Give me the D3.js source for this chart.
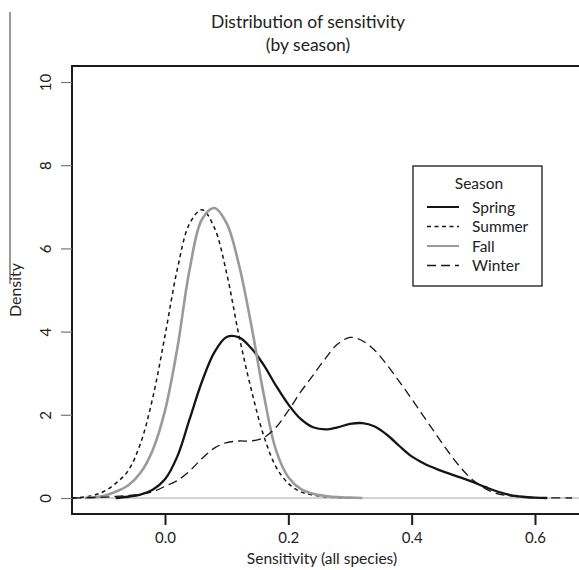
<!DOCTYPE html>
<html>
<head>
<meta charset="utf-8">
<script src="https://cdn.jsdelivr.net/npm/d3@7"></script>
<style>
  body { margin: 0; background: #fff; }
  svg { display: block; }
  text { font-family: Lato, "Noto Sans", sans-serif; fill: #222; }
</style>
</head>
<body>
<svg id="chart" width="579" height="570"></svg>
<script>
// density estimates
const spring_x = [-0.08,-0.06,-0.04,-0.02,0.00,0.02,0.04,0.06,0.08,0.10,0.12,0.14,0.16,0.18,0.20,0.22,0.24,0.26,0.28,0.30,0.32,0.34,0.36,0.38,0.40,0.42,0.44,0.46,0.48,0.50,0.52,0.54,0.56,0.58,0.60,0.62];
const spring_y = [0.0,0.03,0.08,0.2,0.45,1.0,1.9,2.8,3.5,3.87,3.86,3.6,3.2,2.7,2.25,1.9,1.7,1.65,1.7,1.78,1.8,1.72,1.52,1.25,1.0,0.83,0.7,0.59,0.49,0.38,0.26,0.15,0.07,0.03,0.01,0.0];

const summer_x = [-0.15,-0.12,-0.10,-0.08,-0.06,-0.04,-0.02,0.00,0.02,0.04,0.06,0.08,0.10,0.12,0.14,0.16,0.18,0.20,0.22,0.24,0.26,0.28,0.30];
const summer_y = [0.0,0.05,0.15,0.35,0.65,1.3,2.4,3.9,5.5,6.6,6.93,6.5,5.4,3.9,2.6,1.5,0.75,0.35,0.15,0.07,0.03,0.01,0.0];

const fall_x = [-0.13,-0.10,-0.08,-0.06,-0.04,-0.02,0.00,0.02,0.04,0.06,0.08,0.10,0.12,0.14,0.16,0.18,0.20,0.22,0.24,0.26,0.28,0.30,0.32];
const fall_y = [0.0,0.05,0.15,0.3,0.6,1.15,2.1,3.6,5.5,6.7,6.97,6.6,5.6,4.15,2.5,1.15,0.5,0.22,0.1,0.05,0.02,0.01,0.0];

const winter_x = [-0.15,-0.12,-0.10,-0.08,-0.06,-0.04,-0.02,0.00,0.02,0.04,0.06,0.08,0.10,0.12,0.14,0.16,0.18,0.20,0.22,0.24,0.26,0.28,0.30,0.32,0.34,0.36,0.38,0.40,0.42,0.44,0.46,0.48,0.50,0.52,0.54,0.56,0.58,0.60,0.62,0.66];
const winter_y = [0.0,0.01,0.02,0.04,0.06,0.09,0.15,0.28,0.42,0.65,0.95,1.2,1.33,1.37,1.37,1.45,1.7,2.1,2.55,2.95,3.35,3.7,3.86,3.78,3.55,3.2,2.8,2.38,1.95,1.52,1.1,0.72,0.42,0.22,0.1,0.05,0.02,0.01,0.005,0.0];

const seasons = ["Spring", "Summer", "Fall", "Winter"];
const x_ticks = [0.0, 0.2, 0.4, 0.6];
const y_ticks = [0, 2, 4, 6, 8, 10];

const series = [
    {name: "Spring", xs: spring_x, ys: spring_y, color: "#151515", width: 2.3, dash: null},
    {name: "Summer", xs: summer_x, ys: summer_y, color: "#151515", width: 1.5, dash: "4,3.5"},
    {name: "Fall",   xs: fall_x,   ys: fall_y,   color: "#9a9a9a", width: 2.6, dash: null},
    {name: "Winter", xs: winter_x, ys: winter_y, color: "#151515", width: 1.3, dash: "9,5"}
];

const svg = d3.select("#chart");

// plot box
const box = {left: 72, top: 66, right: 582, bottom: 514};

const x = d3.scaleLinear().domain([0, 0.6]).range([165, 535]);
const y = d3.scaleLinear().domain([0, 10]).range([498, 82]);

// stray scan mark at the far left
svg.append("line")
    .attr("x1", 10).attr("x2", 10)
    .attr("y1", 12).attr("y2", 284)
    .attr("stroke", "#555").attr("stroke-width", 1.2);

// zero baseline
svg.append("line")
    .attr("x1", box.left).attr("x2", box.right)
    .attr("y1", y(0)).attr("y2", y(0))
    .attr("stroke", "#c4c4c4").attr("stroke-width", 1.6);

const line = d3.line()
    .x(d => x(d[0]))
    .y(d => y(Math.max(0, d[1])))
    .curve(d3.curveCatmullRom.alpha(0.5));

for (const s of series) {
    const pts = s.xs.map((v, i) => [v, s.ys[i]]);
    svg.append("path")
        .datum(pts)
        .attr("d", line)
        .attr("fill", "none")
        .attr("stroke", s.color)
        .attr("stroke-width", s.width)
        .attr("stroke-dasharray", s.dash);
}

// frame
svg.append("rect")
    .attr("x", box.left).attr("y", box.top)
    .attr("width", box.right - box.left).attr("height", box.bottom - box.top)
    .attr("fill", "none").attr("stroke", "#1a1a1a").attr("stroke-width", 2);

// x axis
const xAxis = svg.append("g")
    .attr("transform", `translate(0,${box.bottom})`)
    .call(d3.axisBottom(x).tickValues(x_ticks).tickFormat(d3.format(".1f")).tickSize(11));
xAxis.select(".domain").remove();
xAxis.selectAll(".tick line").attr("stroke", "#1a1a1a").attr("stroke-width", 2);
xAxis.selectAll(".tick text")
    .attr("font-size", 15).attr("font-family", "Lato, 'Noto Sans', sans-serif")
    .attr("fill", "#222").attr("dy", null).attr("y", 29);

// y axis, labels turned like R's default
const yAxis = svg.append("g")
    .attr("transform", `translate(${box.left},0)`)
    .call(d3.axisLeft(y).tickValues(y_ticks).tickSize(11));
yAxis.select(".domain").remove();
yAxis.selectAll(".tick line").attr("stroke", "#777").attr("stroke-width", 1.2);
yAxis.selectAll(".tick text")
    .attr("transform", "rotate(-90)")
    .attr("x", 0).attr("y", -21).attr("dy", null)
    .attr("text-anchor", "middle")
    .attr("font-size", 15).attr("font-family", "Lato, 'Noto Sans', sans-serif")
    .attr("fill", "#222");

// titles
svg.append("text").attr("x", 308).attr("y", 28).attr("text-anchor", "middle")
    .attr("font-size", 17.5).text("Distribution of sensitivity");
svg.append("text").attr("x", 308).attr("y", 51).attr("text-anchor", "middle")
    .attr("font-size", 17.5).text("(by season)");
svg.append("text").attr("x", 322).attr("y", 564).attr("text-anchor", "middle")
    .attr("font-size", 15.5).text("Sensitivity (all species)");
svg.append("text").attr("transform", "translate(21,290) rotate(-90)").attr("text-anchor", "middle")
    .attr("font-size", 16).text("Density");

// legend
const lg = svg.append("g").attr("transform", "translate(413,166)");
lg.append("rect").attr("width", 129).attr("height", 120)
    .attr("fill", "#fff").attr("stroke", "#1a1a1a").attr("stroke-width", 1.3);
lg.append("text").attr("x", 66).attr("y", 23).attr("text-anchor", "middle")
    .attr("font-size", 15.5).text("Season");
const rows = lg.selectAll("g.row").data(series).enter().append("g")
    .attr("class", "row")
    .attr("transform", (d, i) => `translate(0,${41 + i * 19.5})`);
rows.append("line")
    .attr("x1", 14).attr("x2", 46).attr("y1", 0).attr("y2", 0)
    .attr("stroke", d => d.color)
    .attr("stroke-width", d => Math.min(d.width, 2))
    .attr("stroke-dasharray", d => d.dash);
rows.append("text").attr("x", 59).attr("y", 5.5)
    .attr("font-size", 15.5).text((d, i) => seasons[i]);
</script>
</body>
</html>
